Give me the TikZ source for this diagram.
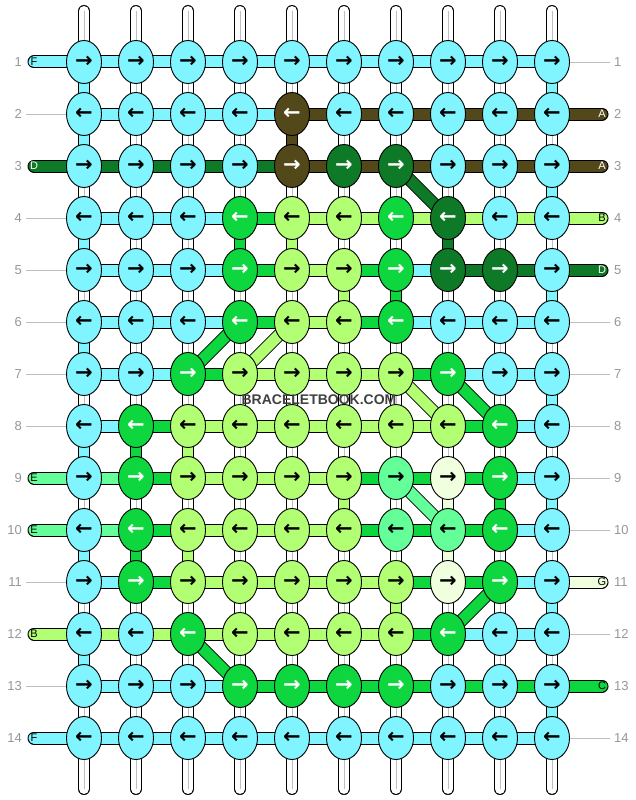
\documentclass[tikz,border=0pt]{standalone}
\usepackage{fontspec}
\setmainfont{Liberation Sans}
\newfontfamily\arrowfont{DejaVu Sans}
\usetikzlibrary{shapes.geometric}

\definecolor{colA}{RGB}{82,72,26}
\definecolor{colB}{RGB}{178,255,116}
\definecolor{colC}{RGB}{14,214,62}
\definecolor{colD}{RGB}{14,122,40}
\definecolor{colE}{RGB}{100,255,152}
\definecolor{colF}{RGB}{128,245,255}
\definecolor{colG}{RGB}{240,255,222}
\definecolor{numgray}{RGB}{150,150,150}
\definecolor{tickgray}{RGB}{190,190,190}

\pgfdeclarelayer{strands}
\pgfdeclarelayer{threads}
\pgfsetlayers{strands,threads,main}

\tikzset{
    knot/.style={ellipse, draw=black, line width=0.9pt, minimum width=35pt,
        minimum height=43pt, inner sep=0pt,
        font=\arrowfont\bfseries\fontsize{21}{21}\selectfont},
    knotA/.style={fill=colA, text=white},
    knotB/.style={fill=colB},
    knotC/.style={fill=colC, text=white},
    knotD/.style={fill=colD, text=white},
    knotE/.style={fill=colE},
    knotF/.style={fill=colF},
    knotG/.style={fill=colG},
    thread/.style={draw=black, line width=1pt, double=#1, double distance=11pt},
    strand/.style={draw=black, line width=1pt, double=white, double distance=10pt, line cap=round},
    tag/.style={font=\fontsize{11}{11}\selectfont, inner sep=0pt},
    rownum/.style={font=\fontsize{13}{13}\selectfont, text=numgray, inner sep=0pt},
    tick/.style={draw=tickgray, line width=0.8pt}
}

\begin{document}
\begin{tikzpicture}[x=1pt, y=-1pt]
    \useasboundingbox (0,0) rectangle (636,800);

    % knots
    \foreach \r/\knots in {
        1/{F,F,F,F,F,F,F,F,F,F},
        2/{F,F,F,F,A,F,F,F,F,F},
        3/{F,F,F,F,A,D,D,F,F,F},
        4/{F,F,F,C,B,B,C,D,F,F},
        5/{F,F,F,C,B,B,C,D,D,F},
        6/{F,F,F,C,B,B,C,F,F,F},
        7/{F,F,C,B,B,B,B,C,F,F},
        8/{F,C,B,B,B,B,B,B,C,F},
        9/{F,C,B,B,B,B,E,G,C,F},
        10/{F,C,B,B,B,B,E,E,C,F},
        11/{F,C,B,B,B,B,B,G,C,F},
        12/{F,F,C,B,B,B,B,C,F,F},
        13/{F,F,F,C,C,C,C,F,F,F},
        14/{F,F,F,F,F,F,F,F,F,F}}{
        \foreach \k [count=\c] in \knots {
            \ifodd\r \def\dir{→}\else \def\dir{←}\fi
            \node[knot, knot\k] (n-\r-\c) at ({84+52*(\c-1)}, {62+52*(\r-1)}) {\dir};
        }
    }

    % white warp strands
    \begin{pgfonlayer}{strands}
    \foreach \c in {1,...,10} {
        \coordinate (top-\c) at ({84+52*(\c-1)}, 11);
        \coordinate (bot-\c) at ({84+52*(\c-1)}, 789);
        \draw[strand] (top-\c) -- (bot-\c);
        \draw[black!25, line width=0.8pt] (top-\c) -- (bot-\c);
    }
    \end{pgfonlayer}

    \begin{pgfonlayer}{threads}
    % vertical pieces (W = strand only)
    \foreach \c/\gaps in {
        1/{F,F,W,F,W,F,W,F,W,F,W,F,W},
        2/{W,W,W,W,W,W,W,C,W,C,W,W,W},
        3/{W,W,W,W,W,W,W,B,W,B,W,W,W},
        4/{W,W,W,C,W,W,W,W,W,W,W,W,W},
        5/{W,A,W,B,W,W,W,W,W,W,W,W,W},
        6/{W,W,W,W,B,W,W,W,B,W,W,W,W},
        7/{W,W,W,W,C,W,W,W,W,W,B,W,W},
        8/{W,W,W,D,W,W,W,W,G,G,W,W,W},
        9/{W,W,W,W,W,W,W,W,C,W,W,W,W},
        10/{F,W,F,W,F,W,F,W,F,W,F,W,F}}{
        \foreach \g [count=\r] in \gaps {
            \pgfmathtruncatemacro\s{\r+1}
            \if\g W\else
                \draw[thread=col\g, double distance=10pt] (n-\r-\c.center) -- (n-\s-\c.center);
            \fi
        }
    }

    % horizontal pieces
    \foreach \r/\links in {
        1/{F,F,F,F,F,F,F,F,F},
        2/{F,F,F,F,A,A,A,A,A},
        3/{D,D,D,D,A,A,A,A,A},
        4/{F,F,F,C,B,B,B,B,B},
        5/{F,F,F,C,B,C,F,D,D},
        6/{F,F,F,C,B,C,F,F,F},
        7/{F,F,C,B,B,B,C,F,F},
        8/{F,C,B,B,B,B,B,C,F},
        9/{E,C,B,B,B,C,C,C,F},
        10/{E,C,B,B,B,C,C,C,F},
        11/{F,C,B,B,B,B,C,C,F},
        12/{B,B,B,B,B,B,C,F,F},
        13/{F,F,F,C,C,C,C,C,C},
        14/{F,F,F,F,F,F,F,F,F}}{
        \foreach \k [count=\c] in \links {
            \pgfmathtruncatemacro\d{\c+1}
            \draw[thread=col\k] (n-\r-\c.center) -- (n-\r-\d.center);
        }
    }

    % diagonal pieces
    \foreach \a/\b/\k in {3-7/4-8/D, 6-4/7-3/C, 6-5/7-4/B, 7-7/8-8/B,
                          7-8/8-9/C, 9-7/10-8/E, 11-9/12-8/C, 12-3/13-4/C}
        \draw[thread=col\k] (n-\a.center) -- (n-\b.center);

    % loose ends with thread letters
    \foreach \r/\k/\t in {1/F/black, 3/D/white, 9/E/black, 10/E/black, 12/B/black, 14/F/black} {
        \coordinate (l-\r) at (34, {62+52*(\r-1)});
        \draw[thread=col\k, line cap=round] (n-\r-1.center) -- (l-\r);
        \node[tag, text=\t] (tl-\r) at (l-\r) {\k};
    }
    \foreach \r/\k/\t in {2/A/white, 3/A/white, 4/B/black, 5/D/white, 11/G/black, 13/C/black} {
        \coordinate (r-\r) at (602, {62+52*(\r-1)});
        \draw[thread=col\k, line cap=round] (n-\r-10.center) -- (r-\r);
        \node[tag, text=\t] (tr-\r) at (r-\r) {\k};
    }
    \end{pgfonlayer}

    % row numbers and ticks
    \foreach \r in {1,...,14} {
        \node[rownum, anchor=east] (num-l-\r) at (22, {62+52*(\r-1)}) {\r};
        \node[rownum, anchor=west] (num-r-\r) at (614, {62+52*(\r-1)}) {\r};
    }
    \foreach \r in {2,4,5,6,7,8,11,13} {
        \coordinate (lt-\r) at (26, {62+52*(\r-1)});
        \draw[tick] (lt-\r) -- (n-\r-1.west);
    }
    \foreach \r in {1,6,7,8,9,10,12,14} {
        \coordinate (rt-\r) at (610, {62+52*(\r-1)});
        \draw[tick] (n-\r-10.east) -- (rt-\r);
    }

    \node[font=\bfseries\fontsize{14}{14}\selectfont, text=black!75] (mark) at (319,400) {BRACELETBOOK.COM};
\end{tikzpicture}
\end{document}
